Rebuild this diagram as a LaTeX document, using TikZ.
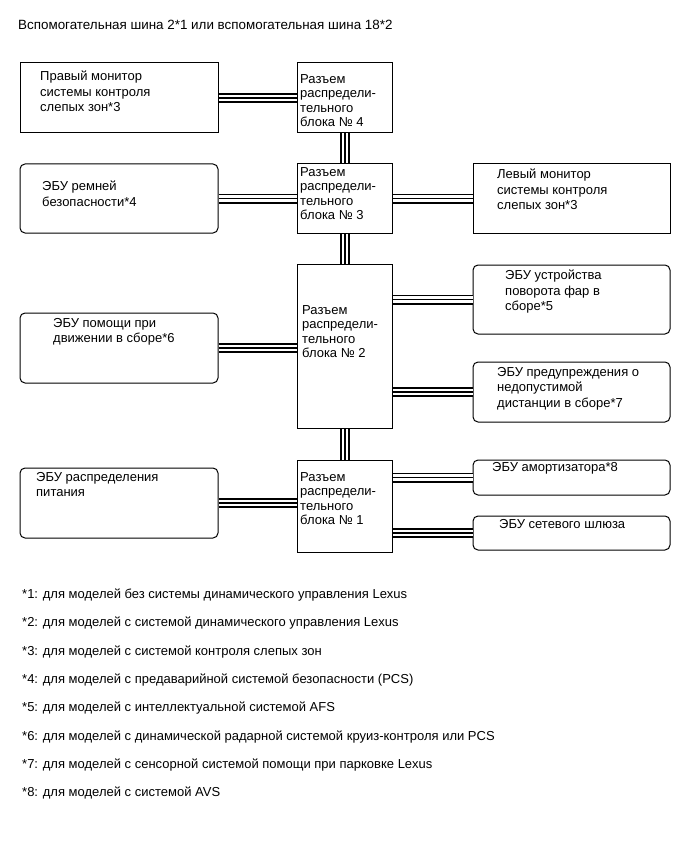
\documentclass[tikz,border=0pt]{standalone}
\usepackage{fontspec}
\setmainfont{Liberation Sans}
\usetikzlibrary{calc}

\begin{document}
\begin{tikzpicture}[x=1pt, y=-1pt,
            box/.style={draw, line width=1pt, minimum width=198pt, minimum height=70pt, inner sep=0pt},
            rbox/.style={box, rounded corners=5pt},
            conn/.style={draw, line width=1pt, minimum width=95pt, inner sep=0pt},
            txt/.style={anchor=north west, inner sep=0pt, align=left, font=\fontsize{13}{15.5}\selectfont},
            ctxt/.style={txt, font=\fontsize{13}{14.5}\selectfont},
            note/.style={anchor=west, inner sep=0pt, font=\fontsize{13}{15.5}\selectfont},
            bus/.style={line width=1.5pt, preaction={draw, line width=10pt}, preaction={draw, white, line width=6.4pt}}
        ]
            \useasboundingbox (0,0) rectangle (690,853);

            \node[note, font=\fontsize{13.4}{16}\selectfont] (title) at (18,25) {Вспомогательная шина 2*1 или вспомогательная шина 18*2};

            \node[box] (rmon) at (119,98) {};
            \node[rbox, minimum height=69pt] (belt) at (119,198.5) {};
            \node[rbox] (assist) at (119,348) {};
            \node[rbox] (power) at (119,503) {};

            \node[conn, minimum height=70pt] (c4) at (345,98) {};
            \node[conn, minimum height=69pt] (c3) at (345,198.5) {};
            \node[conn, minimum height=164pt] (c2) at (345,346) {};
            \node[conn, minimum height=92pt] (c1) at (345,506) {};

            \node[box, minimum width=197pt, minimum height=69pt] (lmon) at (571.5,198.5) {};
            \node[rbox, minimum width=197pt, minimum height=69pt] (lamp) at (571.5,299.5) {};
            \node[rbox, minimum width=197pt, minimum height=60pt] (warn) at (571.5,392) {};
            \node[rbox, minimum width=197pt, minimum height=35pt] (shock) at (571.5,477.5) {};
            \node[rbox, minimum width=197pt, minimum height=34pt] (gw) at (571.5,533) {};

            \node[txt] (rmon-t) at (40,71) {Правый монитор\\системы контроля\\слепых зон*3};
            \node[txt] (belt-t) at (42,181) {ЭБУ ремней\\безопасности*4};
            \node[txt] (assist-t) at (53,318) {ЭБУ помощи при\\движении в сборе*6};
            \node[txt] (power-t) at (36,472) {ЭБУ распределения\\питания};

            \node[ctxt] (c4-t) at (300,74) {Разъем\\распредели-\\тельного\\блока № 4};
            \node[ctxt] (c3-t) at (300,167) {Разъем\\распредели-\\тельного\\блока № 3};
            \node[ctxt] (c2-t) at (302,305) {Разъем\\распредели-\\тельного\\блока № 2};
            \node[ctxt] (c1-t) at (300,472) {Разъем\\распредели-\\тельного\\блока № 1};

            \node[txt] (lmon-t) at (497,169) {Левый монитор\\системы контроля\\слепых зон*3};
            \node[txt] (lamp-t) at (505,270) {ЭБУ устройства\\поворота фар в\\сборе*5};
            \node[txt] (warn-t) at (497,367) {ЭБУ предупреждения о\\недопустимой\\дистанции в сборе*7};
            \node[txt] (shock-t) at (492,462) {ЭБУ амортизатора*8};
            \node[txt] (gw-t) at (499,519) {ЭБУ сетевого шлюза};

            \draw[bus] (rmon.east) -- (rmon.east -| c4.west);
            \draw[bus] (belt.east) -- (belt.east -| c3.west);
            \draw[bus] (c3.east) -- (c3.east -| lmon.west);
            \draw[bus] (c2.east |- lamp) -- (lamp.west);
            \draw[bus] (assist.east) -- (assist.east -| c2.west);
            \draw[bus] (c2.east |- warn) -- (warn.west);
            \draw[bus] (power.east) -- (power.east -| c1.west);
            \draw[bus] (c1.east |- shock) -- (shock.west);
            \draw[bus] (c1.east |- gw) -- (gw.west);
            \draw[bus] (c4.south) -- (c3.north);
            \draw[bus] (c3.south) -- (c2.north);
            \draw[bus] (c2.south) -- (c1.north);

            \node[note] (n1) at (22,595) {*1: для моделей без системы динамического управления Lexus};
            \node[note] (n2) at (22,623) {*2: для моделей с системой динамического управления Lexus};
            \node[note] (n3) at (22,652) {*3: для моделей с системой контроля слепых зон};
            \node[note] (n4) at (22,680) {*4: для моделей с предаварийной системой безопасности (PCS)};
            \node[note] (n5) at (22,708) {*5: для моделей с интеллектуальной системой AFS};
            \node[note] (n6) at (22,737) {*6: для моделей с динамической радарной системой круиз-контроля или PCS};
            \node[note] (n7) at (22,765) {*7: для моделей с сенсорной системой помощи при парковке Lexus};
            \node[note] (n8) at (22,793) {*8: для моделей с системой AVS};
        \end{tikzpicture}
\end{document}
